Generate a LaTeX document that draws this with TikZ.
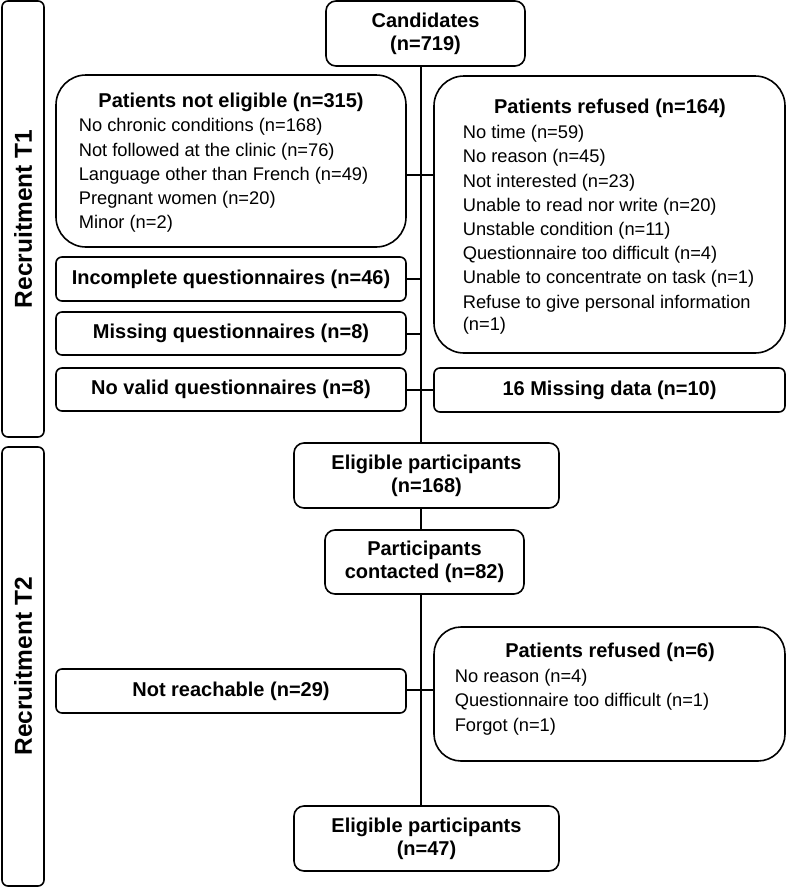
\documentclass[tikz,border=0pt]{standalone}
\usepackage{fontspec}
\setmainfont{Liberation Sans}
\begin{document}
\begin{tikzpicture}[x=1pt,y=-1pt,line width=1.6pt,
  bx/.style={draw, rounded corners=6pt, inner sep=0pt, align=center,
    font=\bfseries\fontsize{20}{23}\selectfont},
  bigbx/.style={draw, rounded corners=30pt, inner sep=0pt},
  ttl/.style={font=\bfseries\fontsize{20}{23}\selectfont, inner sep=0pt},
  itm/.style={font=\fontsize{18.3}{24}\selectfont, anchor=west, inner sep=0pt},
  bar/.style={draw, rotate=90, rounded corners=6pt, inner sep=0pt,
    font=\bfseries\fontsize{24.5}{24}\selectfont}]
\useasboundingbox (0,0) rectangle (786,887);

% side bars
\node[bar, minimum width=436pt, minimum height=42pt] (bar1) at (23,219) {Recruitment T1};
\node[bar, minimum width=439pt, minimum height=42pt] (bar2) at (23,666.5) {Recruitment T2};

% main boxes
\node[bx, rounded corners=10pt, minimum width=199pt, minimum height=65pt] (cand) at (425.5,33.5) {Candidates\\(n=719)};
\node[bx, rounded corners=10pt, minimum width=265pt, minimum height=65pt] (elig1) at (426.5,475.5) {Eligible participants\\(n=168)};
\node[bx, rounded corners=10pt, minimum width=199pt, minimum height=64pt] (cont) at (424.5,562) {Participants\\contacted (n=82)};
\node[bx, rounded corners=10pt, minimum width=265pt, minimum height=65pt] (elig2) at (426.5,838.5) {Eligible participants\\(n=47)};

% left side boxes
\node[bigbx, minimum width=350pt, minimum height=172pt] (ne) at (231,161) {};
\node[ttl] (net) at (231,102) {Patients not eligible (n=315)};
\node[itm] (ne1) at (78,127) {No chronic conditions (n=168)};
\node[itm] (ne2) at (78,151.5) {Not followed at the clinic (n=76)};
\node[itm] (ne3) at (78,176) {Language other than French (n=49)};
\node[itm] (ne4) at (78,200) {Pregnant women (n=20)};
\node[itm] (ne5) at (78,224) {Minor (n=2)};

\node[bx, minimum width=350pt, minimum height=44pt] (inc) at (231,279) {Incomplete questionnaires (n=46)};
\node[bx, minimum width=350pt, minimum height=43pt] (miss) at (231,333.5) {Missing questionnaires (n=8)};
\node[bx, minimum width=350pt, minimum height=43pt] (noval) at (231,389.5) {No valid questionnaires (n=8)};
\node[bx, minimum width=350pt, minimum height=44pt] (nr) at (231,691) {Not reachable (n=29)};

% right side boxes
\node[bigbx, minimum width=351pt, minimum height=277pt] (rf) at (609.5,214.5) {};
\node[ttl] (rft) at (610,108) {Patients refused (n=164)};
\node[itm] (rf1) at (462,134) {No time (n=59)};
\node[itm] (rf2) at (462,158.2) {No reason (n=45)};
\node[itm] (rf3) at (462,182.4) {Not interested (n=23)};
\node[itm] (rf4) at (462,206.6) {Unable to read nor write (n=20)};
\node[itm] (rf5) at (462,230.8) {Unstable condition (n=11)};
\node[itm] (rf6l) at (462,255) {Questionnaire too difficult (n=4)};
\node[itm] (rf7) at (462,279.2) {Unable to concentrate on task (n=1)};
\node[itm] (rf8) at (462,303.4) {Refuse to give personal information};
\node[itm] (rf9) at (462,326) {(n=1)};

\node[bx, minimum width=351pt, minimum height=44pt] (md) at (609.5,390) {16 Missing data (n=10)};

\node[bigbx, rounded corners=27pt, minimum width=351pt, minimum height=134pt] (rs) at (609.5,694) {};
\node[ttl] (rst) at (610,652) {Patients refused (n=6)};
\node[itm] (rs1) at (454,678) {No reason (n=4)};
\node[itm] (rs2) at (454,702) {Questionnaire too difficult (n=1)};
\node[itm] (rs3) at (454,726.5) {Forgot (n=1)};

% spine
\coordinate (sp) at (421,0);
\draw (cand.south -| sp) -- (elig1.north -| sp);
\draw (elig1.south -| sp) -- (cont.north -| sp);
\draw (cont.south -| sp) -- (elig2.north -| sp);

% branches
\coordinate (j1) at (421,175);
\coordinate (j2) at (421,279);
\coordinate (j3) at (421,334);
\coordinate (j4) at (421,390);
\coordinate (j5) at (421,690);
\draw (ne.east |- j1) -- (j1) -- (rf.west |- j1);
\draw (inc.east |- j2) -- (j2);
\draw (miss.east |- j3) -- (j3);
\draw (noval.east |- j4) -- (j4) -- (md.west |- j4);
\draw (nr.east |- j5) -- (j5) -- (rs.west |- j5);
\end{tikzpicture}
\end{document}
